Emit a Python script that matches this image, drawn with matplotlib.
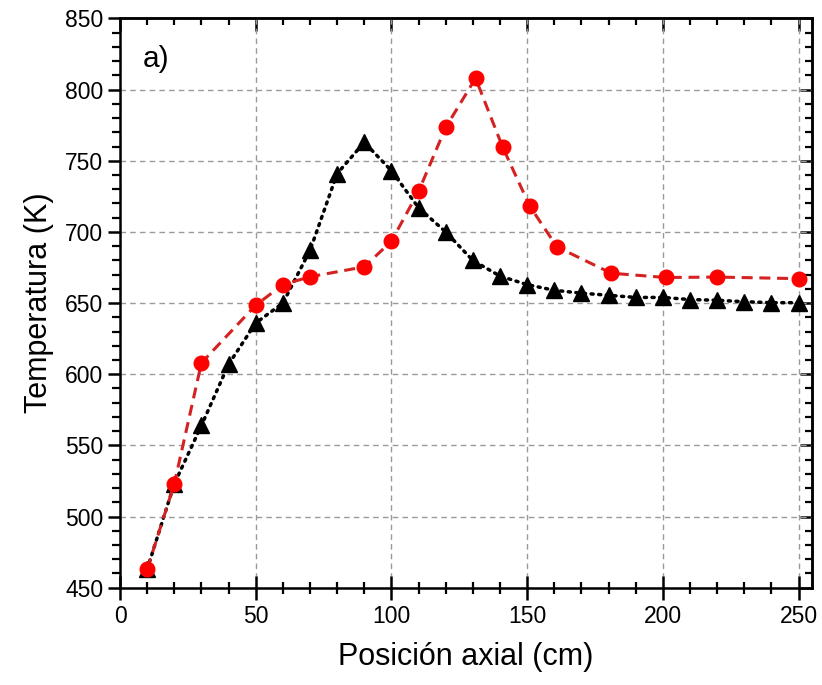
import numpy as np
import matplotlib
matplotlib.use("Agg")
import matplotlib.pyplot as plt
from matplotlib.ticker import MultipleLocator

plt.rcParams["font.family"] = ["Liberation Sans", "DejaVu Sans"]

# black triangles (dotted)
x_tri = [10, 20, 30, 40, 50, 60, 70, 80, 90, 100, 110, 120, 130, 140, 150,
         160, 170, 180, 190, 200, 210, 220, 230, 240, 250]
t_tri = [463, 523, 564, 607, 636, 650, 687, 741, 763, 743, 717, 700, 680, 669, 663,
         659, 657, 655.5, 654, 654, 652.5, 652, 651, 650.3, 650.3]

# red circles (dashed)
x_circ = [10, 20, 30, 50, 60, 70, 90, 100, 110, 120, 131, 141, 151, 161, 181, 201, 220, 250]
t_circ = [463, 523, 608, 648.5, 663, 668.5, 675.5, 693.5, 728.5, 773.5, 808, 759.5,
          718, 689.5, 671, 668, 668.3, 667.2]

fig = plt.figure(figsize=(8.22, 6.85), dpi=100)
ax = fig.add_axes([0.146, 0.142, 0.842, 0.831])

ax.plot(x_tri, t_tri, linestyle=(0, (0.6, 1.6)), color="black", linewidth=2.5,
        dash_capstyle="round",
        marker="^", markersize=11, markerfacecolor="black", markeredgecolor="black", zorder=3)
ax.plot(x_circ, t_circ, linestyle=(0, (3.6, 2.2)), color="#d42222", linewidth=2.2,
        marker="o", markersize=10.5, markerfacecolor="#ff0000", markeredgecolor="#ff0000", zorder=4)

ax.set_xlim(0, 255)
ax.set_ylim(450, 850)
ax.xaxis.set_major_locator(MultipleLocator(50))
ax.xaxis.set_minor_locator(MultipleLocator(10))
ax.yaxis.set_major_locator(MultipleLocator(50))
ax.yaxis.set_minor_locator(MultipleLocator(10))

ax.grid(True, which="major", linestyle=(0, (4, 3)), color="#9a9a9a", linewidth=1.0, zorder=0)
ax.set_axisbelow(True)

for s in ax.spines.values():
    s.set_linewidth(1.8)

ax.tick_params(axis="x", which="major", direction="inout", length=17, width=1.8,
               labelsize=16.5, pad=4)
ax.tick_params(axis="x", which="minor", direction="inout", length=9, width=1.6)
ax.tick_params(axis="y", which="major", direction="out", length=9, width=1.8,
               labelsize=16.5, pad=3)
ax.tick_params(axis="y", which="minor", direction="out", length=5.5, width=1.6)

# top and right ticks pointing in, no labels
ax2 = ax.secondary_xaxis("top")
ax2.xaxis.set_major_locator(MultipleLocator(50))
ax2.xaxis.set_minor_locator(MultipleLocator(10))
ax2.tick_params(which="major", direction="in", length=9, width=1.8, labeltop=False)
ax2.tick_params(which="minor", direction="in", length=5, width=1.6)
ax2.spines["top"].set_linewidth(1.8)
ax3 = ax.secondary_yaxis("right")
ax3.yaxis.set_major_locator(MultipleLocator(50))
ax3.yaxis.set_minor_locator(MultipleLocator(10))
ax3.tick_params(which="major", direction="in", length=9, width=1.8, labelright=False)
ax3.tick_params(which="minor", direction="in", length=5, width=1.6)
ax3.spines["right"].set_linewidth(1.8)

ax.set_xlabel("Posición axial (cm)", fontsize=22, labelpad=10)
ax.set_ylabel("Temperatura (K)", fontsize=22, labelpad=8)

ax.text(0.033, 0.928, "a)", transform=ax.transAxes, fontsize=21.5, va="center", ha="left")

fig.savefig("out.png", dpi=100)
